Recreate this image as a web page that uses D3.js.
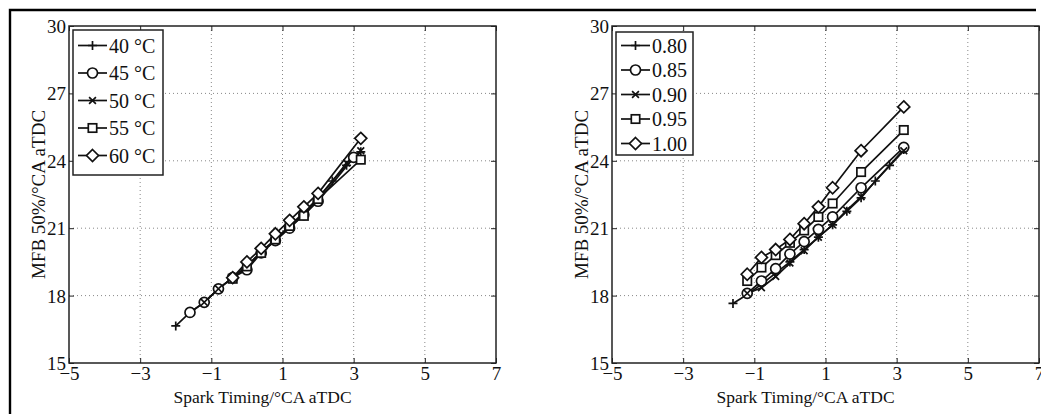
<!DOCTYPE html>
<html><head><meta charset="utf-8">
<script src="https://cdn.jsdelivr.net/npm/d3@7"></script>
<style>
body{margin:0;background:#fff;}
svg text{font-family:"Liberation Serif","Times New Roman",serif !important;fill:#111;}
</style></head><body>
<svg id="c" width="1041" height="414"></svg>
<script>
// ---- data ----
const xTicks = [-5, -3, -1, 1, 3, 5, 7];
const yTicks = [15, 18, 21, 24, 27, 30];
const xTitle = "Spark Timing/°CA aTDC";
const yTitle = "MFB 50%/°CA aTDC";

const leftNames = ["40 °C", "45 °C", "50 °C", "55 °C", "60 °C"];
const leftX = [
  [-2.0,-1.6,-1.2,-0.8,-0.4,0,0.4,0.8,1.2,1.6,2.0,2.4,2.8,3.2],
  [-1.6,-1.2,-0.8,-0.4,0,0.4,0.8,1.2,1.6,2.0,3.0],
  [-1.2,-0.8,-0.4,0,0.4,0.8,1.2,1.6,2.0,2.8,3.2],
  [-0.4,0,0.4,0.8,1.2,1.6,2.0,3.2],
  [-0.4,0,0.4,0.8,1.2,1.6,2.0,3.2]
];
const leftY = [
  [16.65,17.25,17.7,18.3,18.8,19.3,19.95,20.5,21.1,21.7,22.35,23.1,23.8,24.4],
  [17.25,17.7,18.3,18.8,19.15,19.9,20.45,21.0,21.6,22.2,24.15],
  [17.7,18.3,18.8,19.3,19.95,20.45,21.05,21.65,22.3,23.9,24.45],
  [18.75,19.3,19.9,20.5,21.1,21.55,22.3,24.05],
  [18.8,19.5,20.1,20.75,21.35,21.95,22.55,25.0]
];
const rightNames = ["0.80", "0.85", "0.90", "0.95", "1.00"];
const rightX = [
  [-1.6,-1.2,-0.8,-0.4,0,0.4,0.8,1.2,1.6,2.0,2.4,2.8,3.2],
  [-1.2,-0.8,-0.4,0,0.4,0.8,1.2,2.0,3.2],
  [-1.2,-0.8,-0.4,0,0.4,0.8,1.2,1.6,2.0,3.2],
  [-1.2,-0.8,-0.4,0,0.4,0.8,1.2,2.0,3.2],
  [-1.2,-0.8,-0.4,0,0.4,0.8,1.2,2.0,3.2]
];
const rightY = [
  [17.65,18.05,18.5,19.0,19.5,20.05,20.6,21.15,21.75,22.35,23.1,23.8,24.5],
  [18.1,18.65,19.2,19.85,20.4,20.95,21.5,22.8,24.6],
  [18.1,18.35,18.85,19.45,20.0,20.6,21.15,21.8,22.4,24.45],
  [18.65,19.25,19.8,20.35,20.9,21.5,22.1,23.5,25.37],
  [18.95,19.7,20.05,20.5,21.2,21.95,22.8,24.45,26.4]
];
const markers = ["plus", "circle", "cross", "square", "diamond"];

// ---- drawing ----
const FONT = "Liberation Serif, Times New Roman, serif";
const svg = d3.select("#c");
// outer figure border
svg.append("path").attr("d","M10,414 L10,10 L1036,10").attr("fill","none").attr("stroke","#000").attr("stroke-width",2.4);

function drawMarker(g, type, x, y) {
  const s = 4.5;
  if (type === "plus") {
    g.append("path").attr("d",`M${x-s},${y}H${x+s}M${x},${y-s}V${y+s}`).attr("stroke","#111").attr("stroke-width",1.7).attr("fill","none");
  } else if (type === "circle") {
    g.append("circle").attr("cx",x).attr("cy",y).attr("r",5).attr("fill","#fff").attr("stroke","#111").attr("stroke-width",1.7);
  } else if (type === "cross") {
    const c = 3.4;
    g.append("path").attr("d",`M${x-c},${y-c}L${x+c},${y+c}M${x-c},${y+c}L${x+c},${y-c}`).attr("stroke","#111").attr("stroke-width",1.7).attr("fill","none");
  } else if (type === "square") {
    g.append("rect").attr("x",x-4.2).attr("y",y-4.2).attr("width",8.4).attr("height",8.4).attr("fill","#fff").attr("stroke","#111").attr("stroke-width",1.7);
  } else if (type === "diamond") {
    const d = 6;
    g.append("path").attr("d",`M${x},${y-d}L${x+d},${y}L${x},${y+d}L${x-d},${y}Z`).attr("fill","#fff").attr("stroke","#111").attr("stroke-width",1.7);
  }
}

function panel(left, names, xs, ys, legend) {
  const x0 = left, x1 = left + 427, y0 = 26, y1 = 363;
  const x = d3.scaleLinear().domain([-5, 7]).range([x0, x1]);
  const y = d3.scaleLinear().domain([15, 30]).range([y1, y0]);
  const g = svg.append("g");

  // grid
  xTicks.slice(1, -1).forEach(t => g.append("line").attr("x1",x(t)).attr("x2",x(t)).attr("y1",y0).attr("y2",y1)
    .attr("stroke","#888").attr("stroke-width",1).attr("stroke-dasharray","1,3"));
  yTicks.slice(1, -1).forEach(t => g.append("line").attr("x1",x0).attr("x2",x1).attr("y1",y(t)).attr("y2",y(t))
    .attr("stroke","#888").attr("stroke-width",1).attr("stroke-dasharray","1,3"));

  // axes with inward ticks
  const fmt = d => d < 0 ? "\u2212" + Math.abs(d) : String(d);
  const ax = g.append("g").attr("transform",`translate(0,${y1})`)
    .call(d3.axisBottom(x).tickValues(xTicks).tickSize(-5).tickPadding(4).tickFormat(fmt));
  const axT = g.append("g").attr("transform",`translate(0,${y0})`)
    .call(d3.axisTop(x).tickValues(xTicks).tickSize(-5).tickFormat(""));
  const ay = g.append("g").attr("transform",`translate(${x0},0)`)
    .call(d3.axisLeft(y).tickValues(yTicks).tickSize(-5).tickPadding(3).tickFormat(d3.format("d")));
  const ayR = g.append("g").attr("transform",`translate(${x1},0)`)
    .call(d3.axisRight(y).tickValues(yTicks).tickSize(-5).tickFormat(""));
  [ax, axT, ay, ayR].forEach(a => {
    a.attr("font-family", FONT).attr("font-size", 19);
    a.select(".domain").remove();
    a.selectAll("line").attr("stroke","#222").attr("stroke-width",1);
    a.selectAll("text").style("font-family", FONT).style("font-size","19px").attr("fill","#111");
  });
  ax.selectAll("text").attr("y", 3).attr("dy","0.71em");
  ay.selectAll("text").attr("dy","0.34em");
  // frame
  g.append("rect").attr("x",x0).attr("y",y0).attr("width",x1-x0).attr("height",y1-y0)
    .attr("fill","none").attr("stroke","#222").attr("stroke-width",1.5);

  // titles
  g.append("text").attr("x",(x0+x1)/2 - 20).attr("y",403).attr("text-anchor","middle")
    .style("font-family", FONT).style("font-size","17.5px").text(xTitle);
  g.append("text").attr("transform",`translate(${x0-24},${(y0+y1)/2}) rotate(-90)`).attr("text-anchor","middle")
    .style("font-family", FONT).style("font-size","19px").text(yTitle);

  // series
  const line = d3.line().x(d => x(d[0])).y(d => y(d[1]));
  names.forEach((n, i) => {
    const pts = xs[i].map((v, j) => [v, ys[i][j]]);
    g.append("path").datum(pts).attr("d", line).attr("fill","none").attr("stroke","#111").attr("stroke-width",1.7);
  });
  names.forEach((n, i) => {
    xs[i].forEach((v, j) => drawMarker(g, markers[i], x(v), y(ys[i][j])));
  });

  // legend
  const L = legend;
  g.append("rect").attr("x",L.x).attr("y",L.y).attr("width",L.w).attr("height",L.h)
    .attr("fill","#fff").attr("stroke","#222").attr("stroke-width",1.5);
  names.forEach((n, i) => {
    const cy = L.y + L.first + i * L.step;
    g.append("line").attr("x1",L.x+5).attr("x2",L.x+34).attr("y1",cy).attr("y2",cy).attr("stroke","#111").attr("stroke-width",1.7);
    drawMarker(g, markers[i], L.x+19.5, cy);
    g.append("text").attr("x",L.x+36).attr("y",cy).attr("dy","0.36em")
      .style("font-family", FONT).style("font-size","20px").text(n);
  });
}

panel(69, leftNames, leftX, leftY, {x:73, y:30, w:90, h:145, first:15.5, step:27.5});
panel(612, rightNames, rightX, rightY, {x:616, y:32, w:77, h:123, first:13.5, step:24.5});
</script>
</body></html>
